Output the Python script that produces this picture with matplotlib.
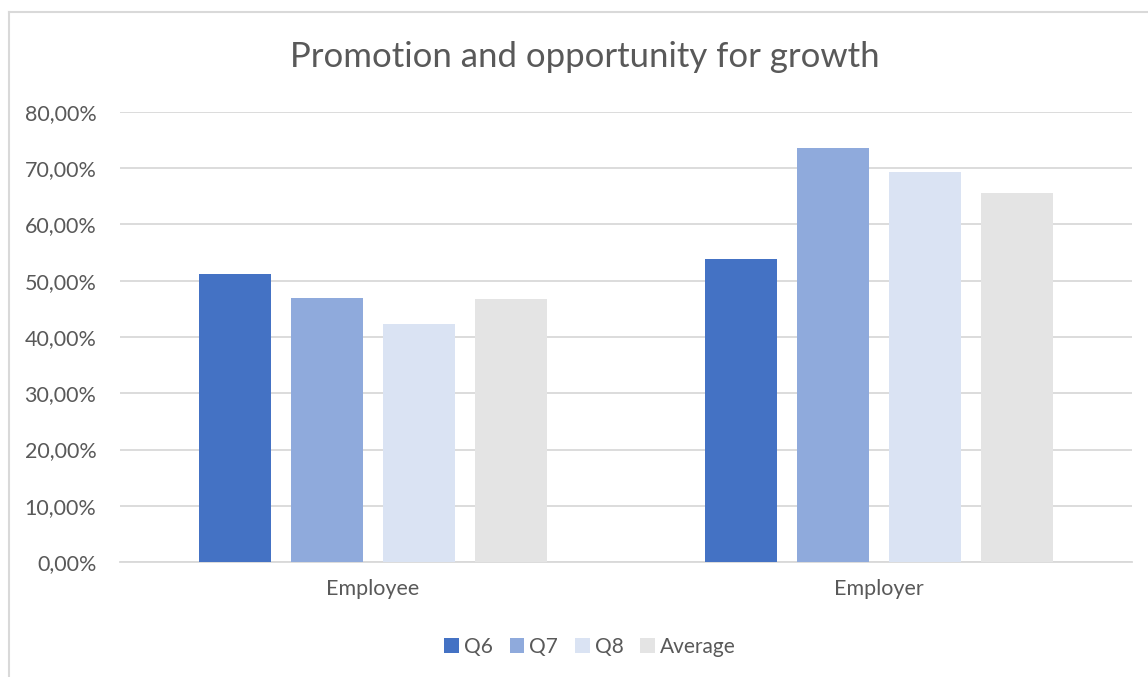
import matplotlib.pyplot as plt
from matplotlib.ticker import FuncFormatter
from matplotlib.lines import Line2D
import numpy as np

plt.rcParams['font.family'] = ['Lato', 'DejaVu Sans']

categories = ['Employee', 'Employer']
series = ['Q6', 'Q7', 'Q8', 'Average']
q6 = [0.512, 0.538]
q7 = [0.469, 0.736]
q8 = [0.423, 0.694]
average = [0.468, 0.656]
colors = ['#4472c4', '#8faadc', '#dae3f3', '#e4e4e4']
text_color = '#595959'

fig = plt.figure(figsize=(11.48, 6.77), dpi=100)
ax = fig.add_axes([120 / 1148, 1 - 562 / 677, 1012 / 1148, 450 / 677])

x = np.arange(len(categories))
step = 0.182
width = 0.142
for i, (name, vals) in enumerate(zip(series, [q6, q7, q8, average])):
    ax.bar(x + (i - 1.5) * step, vals, width, color=colors[i], label=name, zorder=3)

ax.set_xlim(-0.5, 1.5)
ax.set_ylim(0, 0.8)
ax.set_yticks(np.arange(0, 0.81, 0.1))
ax.yaxis.set_major_formatter(FuncFormatter(lambda v, p: f'{v * 100:.2f}%'.replace('.', ',')))
ax.set_xticks(x)
ax.set_xticklabels(categories)
ax.grid(axis='y', color='#d9d9d9', linewidth=1.3, zorder=0)
for s in ['top', 'right', 'left']:
    ax.spines[s].set_visible(False)
ax.spines['bottom'].set_color('#d9d9d9')
ax.spines['bottom'].set_linewidth(1.3)
ax.tick_params(length=0, labelsize=15.5, colors=text_color)
ax.tick_params(axis='y', pad=17)
ax.tick_params(axis='x', pad=12)

fig.text(585 / 1148, 1 - 57 / 677, 'Promotion and opportunity for growth',
         ha='center', va='center', fontsize=25, color=text_color)

leg = fig.legend(loc='center', bbox_to_anchor=(590 / 1148, 1 - 647 / 677), ncol=4,
                 frameon=False, fontsize=15, handlelength=0.7, handleheight=0.7,
                 handletextpad=0.25, columnspacing=0.8, labelcolor=text_color)

# chart border (only top and left edges are visible)
fig.add_artist(Line2D([9 / 1148, 9 / 1148], [0, 1 - 12 / 677], transform=fig.transFigure,
                      color='#d9d9d9', linewidth=1.5))
fig.add_artist(Line2D([9 / 1148, 1], [1 - 12 / 677, 1 - 12 / 677], transform=fig.transFigure,
                      color='#d9d9d9', linewidth=1.5))

fig.savefig('out.png', dpi=100)
